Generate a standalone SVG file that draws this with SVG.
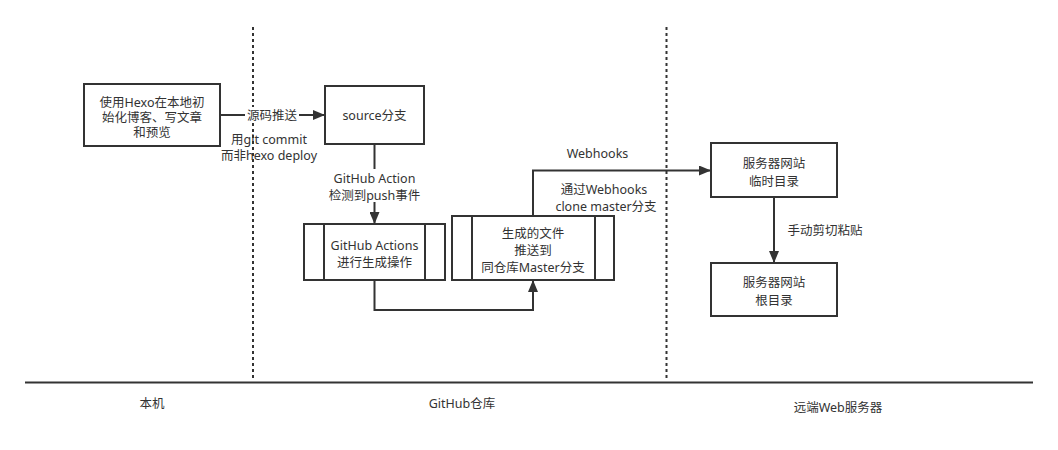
<svg xmlns="http://www.w3.org/2000/svg" width="1058" height="450" viewBox="0 0 1058 450">
<defs>
<style>
text{font-family:"Noto Sans","Noto Sans CJK SC",sans-serif;font-size:12.5px;fill:#333;text-anchor:middle;dominant-baseline:central}
.box{fill:#fff;stroke:#333;stroke-width:2}
.edge{fill:none;stroke:#333;stroke-width:2}
.div{fill:none;stroke:#333;stroke-width:2;stroke-dasharray:3 3}
.bg{fill:#fff}
</style>
<marker id="arr" viewBox="0 0 12 10" refX="12" refY="5" markerWidth="12" markerHeight="10" markerUnits="userSpaceOnUse" orient="auto">
<path d="M0,0 L12,5 L0,10 Z" fill="#333"/>
</marker>
</defs>
<rect width="1058" height="450" fill="#fff"/>
<g id="lanes">
<line class="div" x1="253" y1="27" x2="253" y2="381"/>
<line class="div" x1="666.5" y1="27" x2="666.5" y2="381"/>
<line x1="25" y1="382.5" x2="1033" y2="382.5" stroke="#333" stroke-width="2"/>
<text x="152" y="403">本机</text>
<text x="462" y="403">GitHub仓库</text>
<text x="838" y="407">远端Web服务器</text>
</g>
<g id="connectors">
<line class="edge" x1="220" y1="115" x2="325" y2="115" marker-end="url(#arr)"/>
<line class="edge" x1="374.5" y1="144" x2="374.5" y2="224" marker-end="url(#arr)"/>
<polyline class="edge" points="374.5,280 374.5,310 533,310 533,280" marker-end="url(#arr)"/>
<polyline class="edge" points="533,216 533,170.5 711,170.5" marker-end="url(#arr)"/>
<line class="edge" x1="774" y1="197" x2="774" y2="263" marker-end="url(#arr)"/>
<rect class="bg" x="245" y="107" width="54" height="16"/>
<text x="272" y="115.5">源码推送</text>
<text x="269" y="139">用git commit<tspan x="269" dy="16">而非hexo deploy</tspan></text>
<rect class="bg" x="327" y="169" width="95" height="33"/>
<text x="374.5" y="178">GitHub Action<tspan x="374.5" dy="16.5">检测到push事件</tspan></text>
<text x="597.5" y="153.5">Webhooks</text>
<text x="604" y="189">通过Webhooks<tspan x="606" dy="16.5">clone master分支</tspan></text>
<text x="825" y="230">手动剪切粘贴</text>
</g>
<g id="node-local">
<rect class="box" x="84" y="84" width="136" height="62"/>
<text x="152" y="102">使用Hexo在本地初<tspan x="152" dy="15">始化博客、写文章</tspan><tspan x="152" dy="15">和预览</tspan></text>
</g>
<g id="node-source">
<rect class="box" x="325" y="86" width="99" height="58"/>
<text x="374.5" y="115">source分支</text>
</g>
<g id="node-actions">
<rect class="box" x="304" y="224" width="141" height="56"/>
<line class="edge" x1="324" y1="224" x2="324" y2="280"/>
<line class="edge" x1="425" y1="224" x2="425" y2="280"/>
<text x="374.5" y="245">GitHub Actions<tspan x="374.5" dy="17">进行生成操作</tspan></text>
</g>
<g id="node-master">
<rect class="box" x="452" y="216" width="162" height="64"/>
<line class="edge" x1="472" y1="216" x2="472" y2="280"/>
<line class="edge" x1="595" y1="216" x2="595" y2="280"/>
<text x="533" y="233.5">生成的文件<tspan x="533" dy="16.5">推送到</tspan><tspan x="533" dy="16.5">同仓库Master分支</tspan></text>
</g>
<g id="node-tmp">
<rect class="box" x="711" y="143" width="126" height="54"/>
<text x="774" y="163">服务器网站<tspan x="774" dy="17.5">临时目录</tspan></text>
</g>
<g id="node-root">
<rect class="box" x="711" y="263" width="126" height="53"/>
<text x="774" y="282.5">服务器网站<tspan x="774" dy="17.5">根目录</tspan></text>
</g>
</svg>
